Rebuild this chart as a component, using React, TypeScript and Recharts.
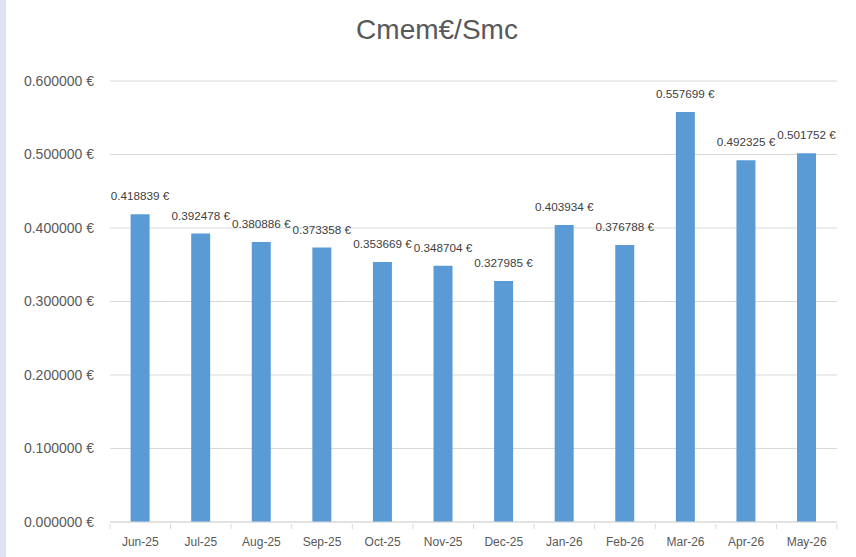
import React from "react";
import { BarChart, Bar, XAxis, YAxis, CartesianGrid, LabelList } from "recharts";

const months = ["Jun-25", "Jul-25", "Aug-25", "Sep-25", "Oct-25", "Nov-25", "Dec-25", "Jan-26", "Feb-26", "Mar-26", "Apr-26", "May-26"];
const values = [0.418839, 0.392478, 0.380886, 0.373358, 0.353669, 0.348704, 0.327985, 0.403934, 0.376788, 0.557699, 0.492325, 0.501752];
const yTicks = [0, 0.1, 0.2, 0.3, 0.4, 0.5, 0.6];
const title = "Cmem€/Smc";

const data = months.map((m, i) => ({ month: m, value: values[i] }));

const FONT = "'Liberation Sans', Arial, sans-serif";
const fmt = (v: number) => `${v.toFixed(6)} €`;

const XTick = (props: any) => {
  const { x, y, payload, index, visibleTicksCount } = props;
  const half = 727 / 12 / 2;
  const isLast = index === (visibleTicksCount ?? months.length) - 1;
  return (
    <g>
      <line x1={x - half} x2={x - half} y1={y - 6} y2={y - 1} stroke="#d9d9d9" />
      {isLast && <line x1={x + half} x2={x + half} y1={y - 6} y2={y - 1} stroke="#d9d9d9" />}
      <text x={x} y={y + 16} textAnchor="middle" fill="#595959" fontSize={12} fontFamily={FONT}>
        {payload.value}
      </text>
    </g>
  );
};

const BarLabel = (props: any) => {
  const { x, y, width, value } = props;
  return (
    <text
      x={Number(x) + Number(width) / 2}
      y={Number(y) - 14}
      textAnchor="middle"
      fill="#404040"
      fontSize={11.7}
      fontFamily={FONT}
    >
      {fmt(Number(value))}
    </text>
  );
};

export default function App() {
  return (
    <div style={{ position: "absolute", left: 0, top: 0, width: 856, height: 557, background: "#ffffff", overflow: "hidden" }}>
      <div style={{ position: "absolute", left: 0, top: 0, width: 6, height: 557, background: "#dce2f1" }} />
      <div
        style={{
          position: "absolute",
          left: 0,
          width: 874,
          top: 12,
          textAlign: "center",
          fontFamily: FONT,
          fontSize: 28,
          color: "#595959",
          lineHeight: "36px",
        }}
      >
        {title}
      </div>
      <div style={{ position: "absolute", left: 0, top: 0 }}>
        <BarChart
          width={856}
          height={557}
          data={data}
          margin={{ top: 81, right: 19, bottom: 5, left: 10 }}
          barCategoryGap="34%"
        >
          <CartesianGrid vertical={false} stroke="#d9d9d9" strokeWidth={1} />
          <XAxis
            dataKey="month"
            height={30}
            axisLine={{ stroke: "#d9d9d9" }}
            tickLine={false}
            tick={<XTick />}
            interval={0}
          />
          <YAxis
            width={100}
            domain={[0, 0.6]}
            ticks={yTicks}
            axisLine={false}
            tickLine={false}
            tickMargin={10}
            tickFormatter={fmt}
            tick={{ fill: "#595959", fontSize: 14, fontFamily: FONT }}
          />
          <Bar dataKey="value" fill="#5b9bd5" isAnimationActive={false}>
            <LabelList dataKey="value" content={<BarLabel />} />
          </Bar>
        </BarChart>
      </div>
    </div>
  );
}
